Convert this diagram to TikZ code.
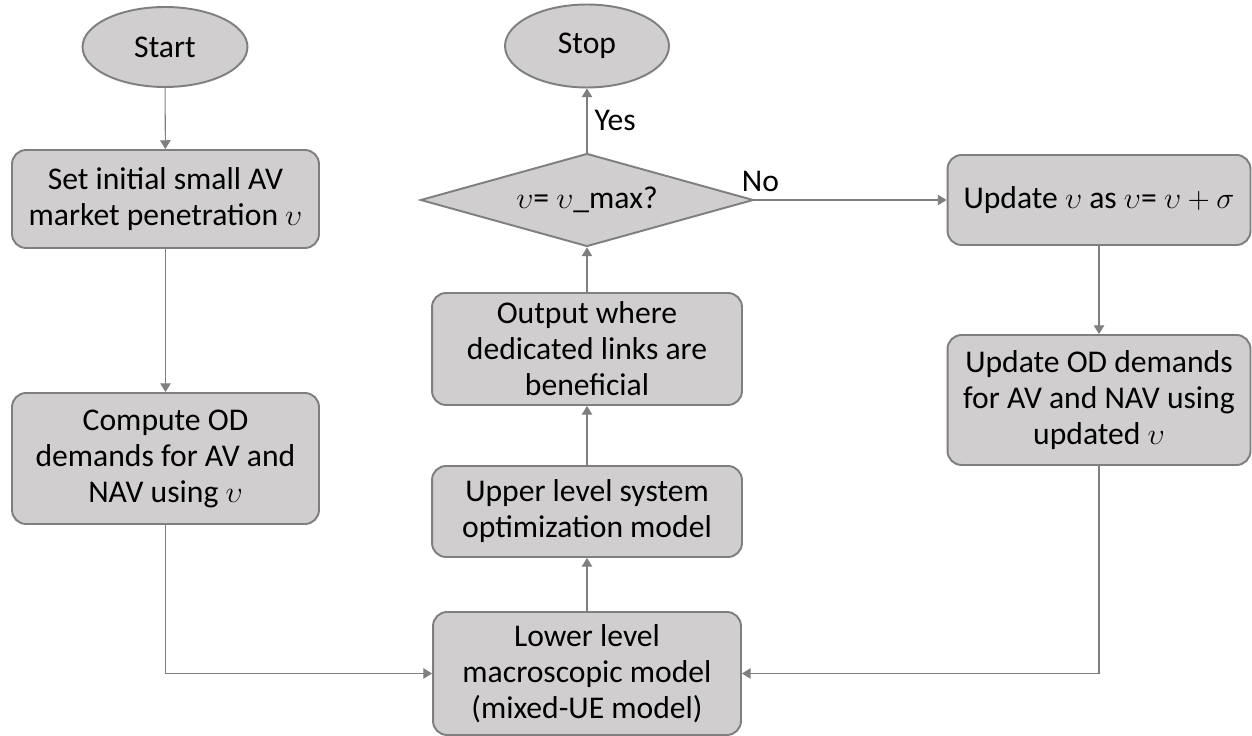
\documentclass[tikz,border=0pt]{standalone}
\usepackage{fontspec}
\setmainfont{Carlito}
\usetikzlibrary{shapes.geometric,arrows.meta}
\definecolor{boxfill}{HTML}{D0CECE}
\definecolor{boxline}{HTML}{7F7F7F}
\tikzset{
  block/.style={draw=boxline, line width=1.1pt, fill=boxfill, rounded corners=8pt,
    align=center, inner sep=0pt, font=\fontsize{18}{20.5}\selectfont},
  term/.style={ellipse, draw=boxline, line width=1.1pt, fill=boxfill,
    inner sep=0pt, font=\fontsize{18}{20.5}\selectfont},
  decision/.style={diamond, aspect=3.6, draw=boxline, line width=1.1pt, fill=boxfill,
    inner sep=0pt, font=\fontsize{18}{20.5}\selectfont},
  flow/.style={draw=boxline, line width=0.6pt, -{Triangle[width=6pt,length=5pt]}},
  tag/.style={font=\fontsize{18}{20.5}\selectfont, inner sep=0pt}
}
\begin{document}
\begin{tikzpicture}[x=0.02cm, y=-0.02cm]
\useasboundingbox (0,0) rectangle (1252,736);
% left column
\node [term, minimum width=3.3cm, minimum height=1.6cm] (start) at (165,47) {Start};
\node [block, minimum width=6.14cm, minimum height=1.96cm] (init) at (165.5,199) {Set initial small AV\\market penetration $\upsilon$};
\node [block, minimum width=6.14cm, minimum height=2.62cm] (compute) at (165.5,458.5) {Compute OD\\demands for AV and\\NAV using $\upsilon$};
% middle column
\node [term, minimum width=3.28cm, minimum height=1.66cm] (stop) at (587,46) {Stop};
\node [decision, minimum width=6.66cm, minimum height=1.86cm] (check) at (587,200) {$\upsilon$= $\upsilon$\_max?};
\node [block, minimum width=6.2cm, minimum height=2.24cm] (output) at (587,349) {Output where\\dedicated links are\\beneficial};
\node [block, minimum width=6.2cm, minimum height=1.82cm] (upper) at (587,511.5) {Upper level system\\optimization model};
\node [block, minimum width=6.16cm, minimum height=2.46cm] (lower) at (587,673.5) {Lower level\\macroscopic model\\(mixed-UE model)};
% right column
\node [block, minimum width=6.06cm, minimum height=1.8cm] (update) at (1099,200) {Update $\upsilon$ as $\upsilon$= $\upsilon+\sigma$};
\node [block, minimum width=6.06cm, minimum height=2.6cm] (updod) at (1099,400) {Update OD demands\\for AV and NAV using\\updated $\upsilon$};
% connectors
\draw [flow] (start) -- (init);
\draw [flow] (init) -- (compute);
\draw [flow] (compute.south) |- (lower.west);
\draw [flow] (lower) -- (upper);
\draw [flow] (upper) -- (output);
\draw [flow] (output) -- (check);
\draw [flow] (check) -- node [tag, right, xshift=4pt] (yes) {Yes} (stop);
\draw [flow] (check.east) -- node [tag, pos=0, anchor=south west, xshift=-7.4pt, yshift=4.5pt] (no) {No} (update.west);
\draw [flow] (update) -- (updod);
\draw [flow] (updod.south) |- (lower.east);
\end{tikzpicture}
\end{document}
